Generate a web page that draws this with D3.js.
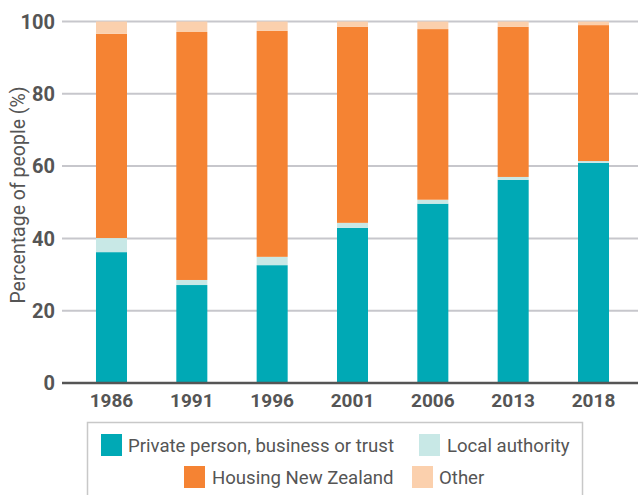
<!DOCTYPE html>
<html>
<head>
<meta charset="utf-8">
<script src="https://cdn.jsdelivr.net/npm/d3@7"></script>
<style>
  html, body { margin: 0; padding: 0; background: #fff; }
  svg { display: block; font-family: Roboto, "Noto Sans", sans-serif; }
</style>
</head>
<body>
<svg id="chart" width="638" height="495"></svg>
<script>
// Census years
const years = ["1986", "1991", "1996", "2001", "2006", "2013", "2018"];

// Share of people (%) by landlord type
const privateOwner = [36.2, 27.1, 32.6, 42.9, 49.6, 56.2, 60.9];
const localAuthority = [3.9, 1.4, 2.3, 1.4, 1.1, 0.8, 0.5];
const housingNZ = [56.5, 68.6, 62.5, 54.2, 47.2, 41.5, 37.6];
const other = [3.4, 2.9, 2.6, 1.5, 2.1, 1.5, 1.0];

const yTicks = [0, 20, 40, 60, 80, 100];

const seriesNames = ["Private person, business or trust", "Local authority", "Housing New Zealand", "Other"];
const seriesColors = ["#00a9b5", "#c8e8e6", "#f58333", "#fbd0ad"];
const seriesValues = [privateOwner, localAuthority, housingNZ, other];

const rows = years.map((yr, i) => {
  const r = { year: yr };
  seriesNames.forEach((k, j) => { r[k] = seriesValues[j][i]; });
  return r;
});

const svg = d3.select("#chart");
const W = 638;

const x = d3.scaleBand().domain(years).range([62, 643]).paddingInner(0.614).paddingOuter(0.423);
const y = d3.scaleLinear().domain([0, 100]).range([383, 21.5]);

// gridlines
svg.append("g")
  .selectAll("line")
  .data(yTicks.filter(t => t > 0))
  .join("line")
  .attr("x1", 62).attr("x2", W)
  .attr("y1", d => y(d)).attr("y2", d => y(d))
  .attr("stroke", "#c7c7cc")
  .attr("stroke-width", 2);

// stacked bars
const stacked = d3.stack().keys(seriesNames)(rows);
svg.append("g")
  .selectAll("g")
  .data(stacked)
  .join("g")
  .attr("fill", (d, i) => seriesColors[i])
  .selectAll("rect")
  .data(d => d)
  .join("rect")
  .attr("x", d => x(d.data.year))
  .attr("width", x.bandwidth())
  .attr("y", d => y(d[1]))
  .attr("height", d => y(d[0]) - y(d[1]));

// baseline
svg.append("line")
  .attr("x1", 62).attr("x2", W)
  .attr("y1", y(0)).attr("y2", y(0))
  .attr("stroke", "#555")
  .attr("stroke-width", 2.5);

// y tick labels
svg.append("g")
  .selectAll("text")
  .data(yTicks)
  .join("text")
  .attr("x", 55)
  .attr("y", d => y(d))
  .attr("dy", "0.36em")
  .attr("text-anchor", "end")
  .attr("font-size", 20)
  .attr("font-weight", "bold")
  .attr("fill", "#555")
  .text(d => d);

// x tick labels
svg.append("g")
  .selectAll("text")
  .data(years)
  .join("text")
  .attr("x", d => x(d) + x.bandwidth() / 2)
  .attr("y", 407)
  .attr("text-anchor", "middle")
  .attr("font-size", 19)
  .attr("font-weight", "bold")
  .attr("fill", "#555")
  .text(d => d);

// y axis title
svg.append("text")
  .attr("transform", "translate(25,195) rotate(-90)")
  .attr("text-anchor", "middle")
  .attr("font-size", 19.5)
  .attr("fill", "#555")
  .text("Percentage of people (%)");

// legend
const legend = svg.append("g");
legend.append("rect")
  .attr("x", 87.5).attr("y", 422.5)
  .attr("width", 495).attr("height", 90)
  .attr("fill", "none")
  .attr("stroke", "#c8c8c8")
  .attr("stroke-width", 1.5);

const legendItems = [
  { i: 0, sx: 101, sy: 434, tx: 128, ty: 452 },
  { i: 1, sx: 419, sy: 434, tx: 447, ty: 452 },
  { i: 2, sx: 184, sy: 466, tx: 212, ty: 484 },
  { i: 3, sx: 412, sy: 466, tx: 439, ty: 484 }
];
legendItems.forEach(it => {
  legend.append("rect")
    .attr("x", it.sx).attr("y", it.sy)
    .attr("width", 21).attr("height", 22)
    .attr("fill", seriesColors[it.i]);
  legend.append("text")
    .attr("x", it.tx).attr("y", it.ty)
    .attr("font-size", 18.6)
    .attr("fill", "#555")
    .text(seriesNames[it.i]);
});
</script>
</body>
</html>
